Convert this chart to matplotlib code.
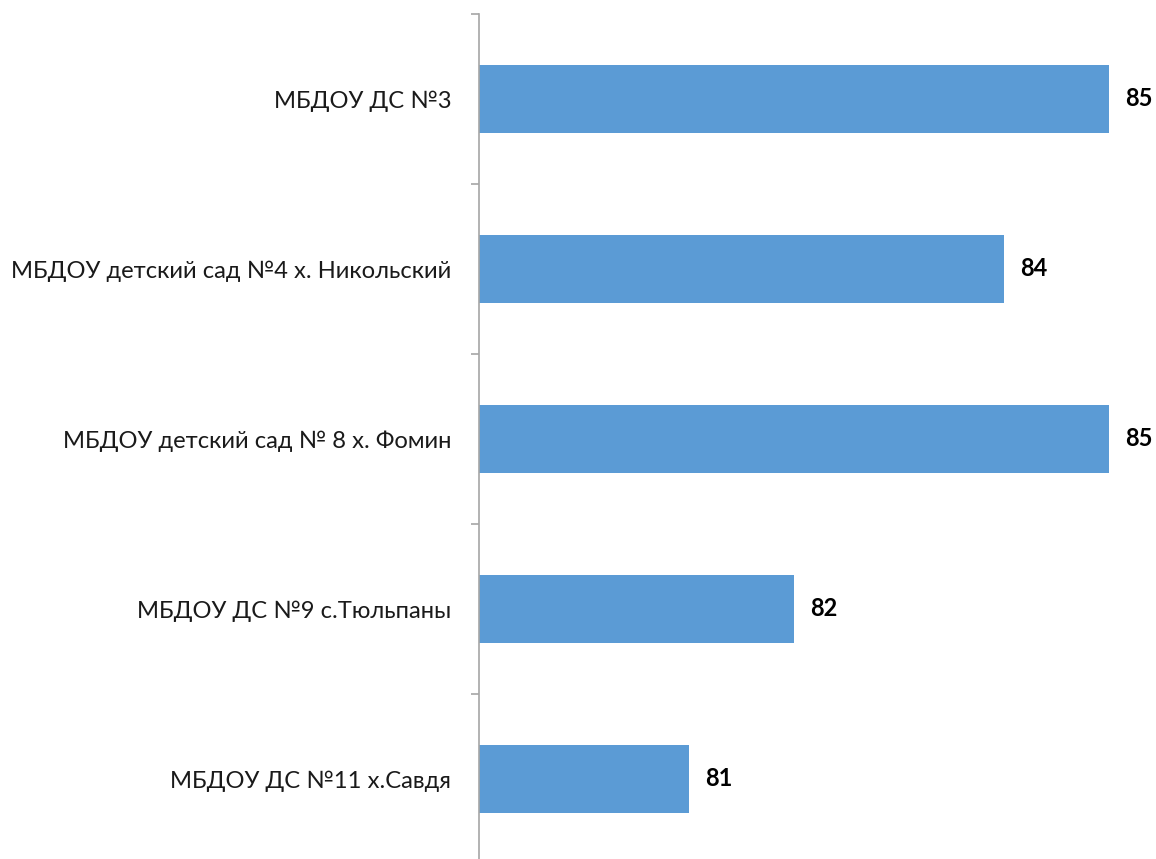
import matplotlib
matplotlib.use("Agg")
import matplotlib.pyplot as plt
import numpy as np

categories = ["МБДОУ ДС №3", "МБДОУ детский сад №4 х. Никольский", "МБДОУ детский сад № 8 х. Фомин",
              "МБДОУ ДС №9 с.Тюльпаны", "МБДОУ ДС №11 х.Савдя"]
values = [85, 84, 85, 82, 81]

plt.rcParams['font.family'] = ['Lato', 'DejaVu Sans']
W, H = 1156, 859
fig = plt.figure(figsize=(W/100, H/100), dpi=100)
ax_left, ax_right = 479, 1156
ax_top, ax_bot = 14, 864
ax = fig.add_axes([ax_left/W, (H-ax_bot)/H, (ax_right-ax_left)/W, (ax_bot-ax_top)/H])
xmin = 79
ppu = 105
ax.set_xlim(xmin, xmin + (ax_right-ax_left)/ppu)
y = np.arange(len(categories))
ax.barh(y, values, left=0, height=0.4, color='#5B9BD5')
ax.set_ylim(len(categories)-0.5, -0.5)
for yi, v in zip(y, values):
    ax.annotate(str(v), (v, yi), xytext=(16, 0), textcoords='offset pixels',
                ha='left', va='center', fontsize=17, fontweight='bold', color='black')
for s in ['top', 'right', 'bottom']:
    ax.spines[s].set_visible(False)
ax.spines['left'].set_color('#A6A6A6')
ax.spines['left'].set_linewidth(1.2)
ax.set_xticks([])
ax.set_yticks(np.arange(len(categories)+1)-0.5)
ax.set_yticklabels([])
ax.tick_params(axis='y', which='major', length=6, width=1.2, color='#A6A6A6', direction='out')
ax.set_yticks(y, minor=True)
ax.set_yticklabels(categories, minor=True, fontsize=17.1, color='#1a1a1a')
ax.tick_params(axis='y', which='minor', length=0, pad=20)
fig.savefig("out.png", dpi=100)
